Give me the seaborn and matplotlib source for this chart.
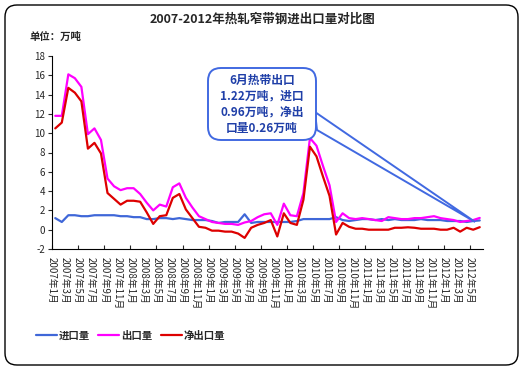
import matplotlib.pyplot as plt
import seaborn as sns
import pandas as pd
from matplotlib.patches import FancyBboxPatch, Polygon
from matplotlib.ticker import FixedLocator

# 2007年1月 - 2012年6月, monthly (万吨)
months = [f"{y}年{m}月" for y in range(2007, 2013) for m in range(1, 13)][:66]

imports = [1.2, 0.8, 1.5, 1.5, 1.4, 1.4, 1.5, 1.5, 1.5, 1.5, 1.4, 1.4,
           1.3, 1.3, 1.1, 1.1, 1.2, 1.2, 1.1, 1.2, 1.1, 1.0, 1.0, 1.0,
           0.9, 0.7, 0.8, 0.8, 0.8, 1.6, 0.7, 0.8, 0.8, 0.8, 0.8, 0.8,
           0.8, 0.9, 1.1, 1.1, 1.1, 1.1, 1.1, 1.3, 1.0, 0.9, 1.0, 1.1,
           1.1, 1.0, 1.1, 1.0, 1.1, 1.0, 1.0, 1.0, 1.1, 1.0, 1.0, 1.0,
           0.9, 0.9, 0.9, 0.8, 0.9, 0.96]
exports = [11.8, 11.8, 16.1, 15.7, 14.8, 9.9, 10.5, 9.3, 5.3, 4.5, 4.1, 4.3,
           4.3, 3.7, 2.8, 2.0, 2.6, 2.4, 4.4, 4.8, 3.3, 2.3, 1.4, 1.1,
           0.8, 0.7, 0.6, 0.6, 0.5, 0.75, 0.9, 1.3, 1.6, 1.7, 0.5, 2.7,
           1.5, 1.4, 3.8, 9.5, 8.7, 6.6, 4.6, 0.8, 1.7, 1.2, 1.1, 1.2,
           1.1, 1.0, 0.9, 1.3, 1.2, 1.1, 1.1, 1.2, 1.2, 1.3, 1.4, 1.2,
           1.1, 1.0, 0.8, 0.9, 1.0, 1.22]
net_exports = [10.5, 11.1, 14.7, 14.2, 13.3, 8.4, 9.0, 7.9, 3.8, 3.2, 2.6, 3.0,
               3.0, 2.9, 1.8, 0.6, 1.4, 1.5, 3.3, 3.7, 2.1, 1.2, 0.3, 0.2,
               -0.1, -0.1, -0.2, -0.2, -0.4, -0.85, 0.2, 0.5, 0.7, 1.0, -0.7, 1.7,
               0.7, 0.5, 3.1, 8.6, 7.6, 5.5, 3.5, -0.5, 0.7, 0.3, 0.1, 0.1,
               0.0, 0.0, 0.0, 0.0, 0.2, 0.2, 0.25, 0.2, 0.1, 0.1, 0.1, 0.0,
               0.0, 0.2, -0.2, 0.2, 0.0, 0.26]

series_names = ['进口量', '出口量', '净出口量']
colors = ['#3F67D8', '#FF00FF', '#DD0000']

sns.set_style('white')
plt.rcParams['font.family'] = ['Noto Sans CJK SC', 'DejaVu Sans']
plt.rcParams['axes.unicode_minus'] = False

df = pd.DataFrame({'idx': range(len(months)), '进口量': imports,
                   '出口量': exports, '净出口量': net_exports})
long = df.melt('idx', var_name='类别', value_name='量')

fig = plt.figure(figsize=(5.24, 3.84), dpi=100)
ax = fig.add_axes([52 / 524, 135 / 384, 431 / 524, 193 / 384])
sns.lineplot(data=long, x='idx', y='量', hue='类别', hue_order=series_names,
             palette=colors, lw=1.6, ax=ax, legend=False)

ax.set_xlim(-0.5, len(months) - 0.5)
ax.set_ylim(-2, 18)
ax.set_yticks(range(-2, 19, 2))
ax.tick_params(axis='y', labelsize=7, length=3, width=0.8, pad=2, direction='out', left=True)

# labels every 2 months, small inward ticks every 4 months
label_pos = [i - 0.5 for i in range(0, len(months), 2)]
ax.xaxis.set_major_locator(FixedLocator(label_pos))
ax.set_xticklabels(months[::2], rotation=270, ha='center', va='top', fontsize=7)
ax.xaxis.set_minor_locator(FixedLocator([i - 0.5 for i in range(0, len(months) + 1, 4)]))
ax.xaxis.remove_overlapping_locs = False
ax.tick_params(axis='x', which='major', length=0, pad=6)
ax.tick_params(axis='x', which='minor', length=3, width=0.8, direction='in', bottom=True)
ax.set_xlabel('')
ax.set_ylabel('')
for s in ['top', 'right']:
    ax.spines[s].set_visible(False)
for s in ['left', 'bottom']:
    ax.spines[s].set_color('black')
    ax.spines[s].set_linewidth(0.8)

fig.text(262 / 524, 1 - 19 / 384, '2007-2012年热轧窄带钢进出口量对比图',
         ha='center', va='center', fontsize=9, weight='bold')
fig.text(30 / 524, 1 - 37 / 384, '单位：万吨', ha='left', va='center',
         fontsize=7.5, weight='bold')

fig.legend(ax.get_lines()[:3], series_names, loc='center left',
           bbox_to_anchor=(36 / 524, 1 - 336 / 384), ncol=3, frameon=False,
           prop={'size': 7.5, 'weight': 'bold'}, handlelength=2.0,
           handletextpad=0.2, columnspacing=0.8, borderpad=0, borderaxespad=0)


def px(x, y):
    # pixel position (from top-left) -> inches for dpi_scale_trans
    return (x / 100, (384 - y) / 100)


# outer rounded frame
x0, y0 = px(5, 365)
frame = FancyBboxPatch((x0, y0), 513 / 100, 360 / 100,
                       boxstyle='round,pad=0,rounding_size=0.12',
                       transform=fig.dpi_scale_trans, fc='none', ec='black', lw=1)
fig.add_artist(frame)

# callout
blue = '#4169E1'
tip = ax.transData.transform((64.3, 0.8))
tip = fig.dpi_scale_trans.inverted().transform(tip)
wedge = Polygon([px(315, 112), tuple(tip), px(317, 130)], closed=True,
                transform=fig.dpi_scale_trans, fc='white', ec=blue, lw=1.4, zorder=5)
fig.add_artist(wedge)
bx, by = px(208, 140)
box = FancyBboxPatch((bx, by), 108 / 100, 72 / 100,
                     boxstyle='round,pad=0,rounding_size=0.13',
                     transform=fig.dpi_scale_trans, fc='white', ec=blue, lw=1.4, zorder=6)
fig.add_artist(box)
fig.text(262 / 524, 1 - 104 / 384, '6月热带出口\n1.22万吨，进口\n0.96万吨，净出\n口量0.26万吨',
         ha='center', va='center', fontsize=8.5, weight='bold', color='#1F3FA8',
         linespacing=1.3, zorder=7)

fig.savefig('out.png', dpi=100)
plt.close()
